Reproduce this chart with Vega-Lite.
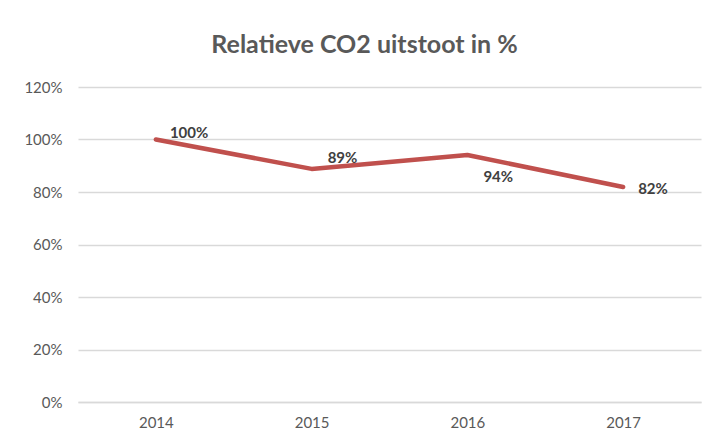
{
  "$schema": "https://vega.github.io/schema/vega-lite/v6.json",
  "autosize": "none",
  "width": 623,
  "height": 315,
  "padding": {"left": 78, "top": 87, "right": 14, "bottom": 37},
  "background": "white",
  "title": {
    "text": "Relatieve CO2 uitstoot in %",
    "font": "Lato",
    "fontSize": 25,
    "fontWeight": "bold",
    "color": "#595959",
    "anchor": "middle",
    "dx": -25,
    "offset": 22
  },
  "config": {
    "view": {"stroke": null},
    "axis": {
      "labelFont": "Lato",
      "labelFontSize": 15,
      "labelColor": "#595959",
      "title": null,
      "ticks": false,
      "domain": false,
      "gridColor": "#d9d9d9",
      "gridWidth": 1.3
    }
  },
  "data": {
    "values": [
      {"jaar": "2014", "waarde": 1.00, "label": "100%"},
      {"jaar": "2015", "waarde": 0.888, "label": "89%"},
      {"jaar": "2016", "waarde": 0.941, "label": "94%"},
      {"jaar": "2017", "waarde": 0.819, "label": "82%"}
    ]
  },
  "encoding": {
    "x": {
      "field": "jaar",
      "type": "ordinal",
      "scale": {"paddingInner": 0, "paddingOuter": 0.5},
      "axis": {"labelAngle": 0, "grid": false, "labelPadding": 13, "domain": true, "domainColor": "#d9d9d9", "domainWidth": 1.3}
    },
    "y": {
      "field": "waarde",
      "type": "quantitative",
      "scale": {"domain": [0, 1.2], "nice": false},
      "axis": {"format": ".0%", "values": [0, 0.2, 0.4, 0.6, 0.8, 1.0, 1.2], "labelPadding": 16, "grid": true}
    }
  },
  "layer": [
    {
      "mark": {"type": "line", "color": "#C0504D", "strokeWidth": 4.5, "strokeCap": "round", "strokeJoin": "round"}
    },
    {
      "transform": [{"filter": "datum.jaar == '2014'"}],
      "mark": {"type": "text", "align": "left", "baseline": "middle", "dx": 14, "dy": -7, "font": "Lato", "fontSize": 15, "fontWeight": "bold", "color": "#404040"},
      "encoding": {"text": {"field": "label"}}
    },
    {
      "transform": [{"filter": "datum.jaar == '2015'"}],
      "mark": {"type": "text", "align": "left", "baseline": "middle", "dx": 16, "dy": -11, "font": "Lato", "fontSize": 15, "fontWeight": "bold", "color": "#404040"},
      "encoding": {"text": {"field": "label"}}
    },
    {
      "transform": [{"filter": "datum.jaar == '2016'"}],
      "mark": {"type": "text", "align": "left", "baseline": "middle", "dx": 16, "dy": 22, "font": "Lato", "fontSize": 15, "fontWeight": "bold", "color": "#404040"},
      "encoding": {"text": {"field": "label"}}
    },
    {
      "transform": [{"filter": "datum.jaar == '2017'"}],
      "mark": {"type": "text", "align": "left", "baseline": "middle", "dx": 15, "dy": 2, "font": "Lato", "fontSize": 15, "fontWeight": "bold", "color": "#404040"},
      "encoding": {"text": {"field": "label"}}
    }
  ]
}
